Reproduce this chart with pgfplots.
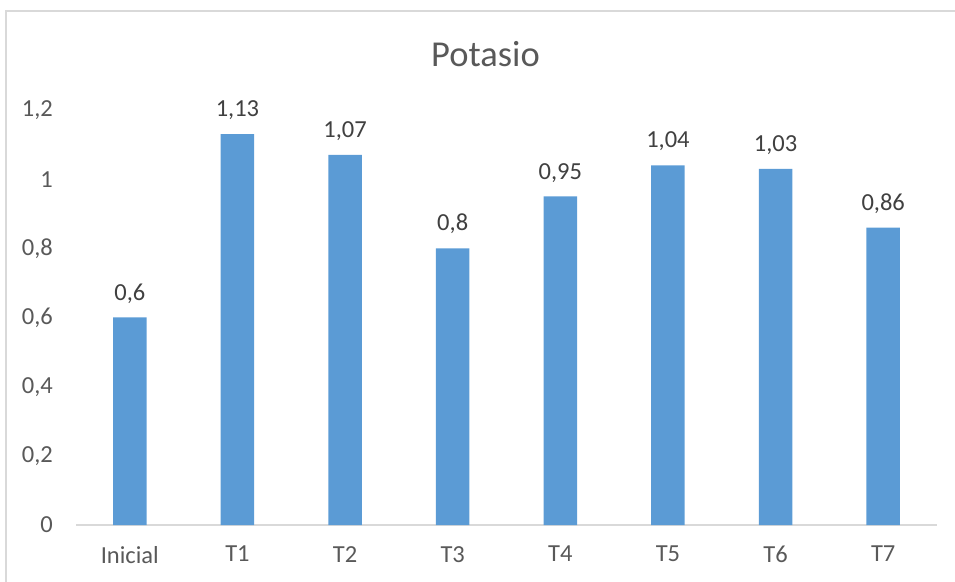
\documentclass[border=0pt]{standalone}
\usepackage{fontspec}
\setmainfont{Carlito}
\usepackage{pgfplots}
\pgfplotsset{compat=1.18}

\definecolor{barblue}{HTML}{5B9BD5}
\definecolor{framegray}{HTML}{D9D9D9}
\definecolor{ticktext}{HTML}{595959}
\definecolor{labeltext}{HTML}{404040}

\begin{document}
\begin{tikzpicture}[x=1pt,y=1pt]
  \useasboundingbox (0,0) rectangle (955,581);
  % chart area border (left and top edges)
  \draw[framegray, line width=1.2pt] (6,-5) -- (6,570) -- (965,570);
  % title
  \node[anchor=base, text=ticktext, font=\fontsize{36.5}{40}\selectfont] at (485.5,514) {Potasio};
  \begin{axis}[
    at={(76pt,56pt)}, anchor=south west,
    scale only axis,
    width=861pt, height=415pt,
    ymin=0, ymax=1.2,
    xmin=-0.5, xmax=7.5,
    ybar, bar width=33.5pt,
    bar shift=0pt,
    xtick=data,
    xticklabels={Inicial,T1,T2,T3,T4,T5,T6,T7},
    ytick={0,0.2,0.4,0.6,0.8,1,1.2},
    axis x line=bottom, axis y line=left,
    axis line style={-},
    x axis line style={draw=framegray, line width=1.2pt},
    y axis line style={draw=none},
    major tick length=0pt,
    /pgf/number format/.cd, use comma, assume math mode=true,
    /pgfplots/.cd,
    tick label style={text=ticktext, font=\fontsize{24.5}{27}\selectfont},
    yticklabel style={anchor=east, inner sep=0pt, xshift=-23pt},
    xticklabel style={anchor=north, inner sep=0pt, yshift=-21pt},
    nodes near coords,
    nodes near coords style={anchor=south, inner sep=0pt, yshift=14pt,
      text=labeltext, font=\fontsize{24.5}{27}\selectfont},
  ]
    \addplot[fill=barblue, draw=none] coordinates {
      (0,0.6) (1,1.13) (2,1.07) (3,0.8) (4,0.95) (5,1.04) (6,1.03) (7,0.86)
    };
  \end{axis}
\end{tikzpicture}
\end{document}
